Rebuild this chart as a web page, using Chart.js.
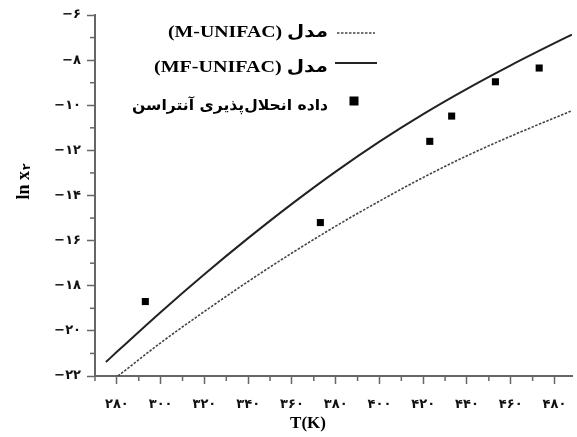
<!DOCTYPE html>
<html>
<head>
<meta charset="utf-8">
<script src="https://cdn.jsdelivr.net/npm/chart.js@4/dist/chart.umd.min.js"></script>
<style>
html,body{margin:0;padding:0;background:#fff;}
#wrap{position:relative;width:577px;height:437px;}
</style>
</head>
<body>
<div id="wrap"><canvas id="c" width="577" height="437"></canvas></div>
<script>
// ---- data ----
const curveT = [275, 280, 300, 320, 340, 360, 380, 400, 420, 440, 460, 480, 488];
const mfUnifac = [-21.38, -20.93, -19.17, -17.49, -15.89, -14.37, -12.94, -11.61, -10.39, -9.27, -8.23, -7.25, -6.87];
const mUnifacT = [280.5, 300, 320, 340, 360, 380, 400, 420, 440, 460, 480, 488];
const mUnifac = [-22.0, -20.53, -19.14, -17.81, -16.55, -15.36, -14.25, -13.20, -12.24, -11.37, -10.56, -10.24];
const expT = [293, 373, 423, 433, 453, 473];
const expLnX = [-18.70, -15.20, -11.60, -10.48, -8.96, -8.35];
const xTicks = [280, 300, 320, 340, 360, 380, 400, 420, 440, 460, 480];
const xTickLabels = ['۲۸۰', '۳۰۰', '۳۲۰', '۳۴۰', '۳۶۰', '۳۸۰', '۴۰۰', '۴۲۰', '۴۴۰', '۴۶۰', '۴۸۰'];
const yTicks = [-22, -20, -18, -16, -14, -12, -10, -8, -6];
const yTickLabels = ['−۲۲', '−۲۰', '−۱۸', '−۱۶', '−۱۴', '−۱۲', '−۱۰', '−۸', '−۶'];
const legendLabels = ['مدل (M-UNIFAC)', 'مدل (MF-UNIFAC)', 'داده انحلال‌پذیری آنتراسن'];
const xTitle = 'T(K)';
const yTitleMain = 'ln x';
const yTitleSub = '۲';

const AXIS = '#666';
const tickFont = {family: '"DejaVu Sans", sans-serif', size: 13, weight: 'bold'};

const extras = {
  id: 'extras',
  afterDraw(chart) {
    const ctx = chart.ctx;
    const xs = chart.scales.x, ys = chart.scales.y;
    const a = chart.chartArea;
    ctx.save();
    // minor ticks
    ctx.strokeStyle = AXIS; ctx.lineWidth = 1.5;
    for (let v = 270; v <= xs.max; v += 10) {
      if (v % 20 === 0) continue;
      const p = xs.getPixelForValue(v);
      ctx.beginPath(); ctx.moveTo(p, a.bottom); ctx.lineTo(p, a.bottom + 5); ctx.stroke();
    }
    for (let v = -21; v <= -7; v += 2) {
      const p = ys.getPixelForValue(v);
      ctx.beginPath(); ctx.moveTo(a.left - 5, p); ctx.lineTo(a.left, p); ctx.stroke();
    }
    // axis titles
    ctx.fillStyle = '#000';
    ctx.font = 'bold 17px "Liberation Serif", serif';
    ctx.textAlign = 'center'; ctx.textBaseline = 'middle';
    ctx.fillText(xTitle, 308, 424);
    ctx.save();
    ctx.translate(24, 182);
    ctx.rotate(-Math.PI / 2);
    ctx.font = 'bold 18px "Liberation Serif", serif';
    const w1 = ctx.measureText(yTitleMain).width;
    ctx.font = 'bold 11px "DejaVu Sans", sans-serif';
    const w2 = ctx.measureText(yTitleSub).width;
    const x0 = -(w1 + w2) / 2;
    ctx.textAlign = 'left';
    ctx.font = 'bold 18px "Liberation Serif", serif';
    ctx.fillText(yTitleMain, x0, 0);
    ctx.font = 'bold 11px "DejaVu Sans", sans-serif';
    ctx.fillText(yTitleSub, x0 + w1 + 1, 3);
    ctx.restore();
    // legend
    const rows = [33, 63, 101];
    const textY = [33, 68, 106];
    const targetW = [160, 174, 196];
    ctx.lineWidth = 1.6; ctx.strokeStyle = '#444';
    ctx.setLineDash([2.5, 1.5]);
    ctx.beginPath(); ctx.moveTo(337, rows[0]); ctx.lineTo(375, rows[0]); ctx.stroke();
    ctx.setLineDash([]);
    ctx.lineWidth = 2; ctx.strokeStyle = '#222';
    ctx.beginPath(); ctx.moveTo(335, rows[1]); ctx.lineTo(377, rows[1]); ctx.stroke();
    ctx.fillStyle = '#000';
    ctx.fillRect(349.5, rows[2] - 4.5, 9, 9);
    ctx.direction = 'rtl';
    ctx.textAlign = 'right';
    ctx.textBaseline = 'middle';
    for (let i = 0; i < 3; i++) {
      ctx.font = (i < 2 ? 'bold 17px "Liberation Serif", "DejaVu Sans", serif' : 'bold 15px "DejaVu Sans", sans-serif');
      const w = ctx.measureText(legendLabels[i]).width;
      ctx.save();
      ctx.translate(328, textY[i]);
      ctx.scale(targetW[i] / w, 1);
      ctx.fillText(legendLabels[i], 0, 0);
      ctx.restore();
    }
    ctx.restore();
  }
};

new Chart(document.getElementById('c'), {
  type: 'scatter',
  data: {
    datasets: [
      {
        label: legendLabels[0],
        data: mUnifacT.map((t, i) => ({x: t, y: mUnifac[i]})),
        showLine: true, pointRadius: 0, borderColor: '#444', borderWidth: 1.6,
        borderDash: [2.5, 1.5], cubicInterpolationMode: 'monotone'
      },
      {
        label: legendLabels[1],
        data: curveT.map((t, i) => ({x: t, y: mfUnifac[i]})),
        showLine: true, pointRadius: 0, borderColor: '#222', borderWidth: 2,
        cubicInterpolationMode: 'monotone'
      },
      {
        label: legendLabels[2],
        data: expT.map((t, i) => ({x: t, y: expLnX[i]})),
        showLine: false, pointStyle: 'rect', pointRadius: 5,
        backgroundColor: '#000', borderColor: '#000', borderWidth: 0
      }
    ]
  },
  options: {
    responsive: false, animation: false,
    layout: {padding: {top: 15, right: 0, left: 0, bottom: 0}},
    plugins: {legend: {display: false}, tooltip: {enabled: false}},
    scales: {
      x: {
        type: 'linear', min: 270, max: 488,
        afterBuildTicks: s => { s.ticks = xTicks.map(v => ({value: v})); },
        afterFit: s => { s.height = 61; s.paddingLeft = 0; s.paddingRight = 0; },
        ticks: {
          color: '#111', font: tickFont, padding: 13, maxRotation: 0, autoSkip: false,
          callback: v => { const i = xTicks.indexOf(v); return i >= 0 ? xTickLabels[i] : ''; }
        },
        grid: {drawOnChartArea: false, drawTicks: true, tickLength: 8, tickColor: AXIS, tickWidth: 1.5},
        border: {display: true, color: AXIS, width: 2}
      },
      y: {
        type: 'linear', min: -22, max: -6,
        afterBuildTicks: s => { s.ticks = yTicks.map(v => ({value: v})); },
        afterFit: s => { s.width = 95; },
        ticks: {
          color: '#111', font: tickFont, padding: 6, autoSkip: false,
          callback: v => { const i = yTicks.indexOf(v); return i >= 0 ? yTickLabels[i] : ''; }
        },
        grid: {drawOnChartArea: false, drawTicks: true, tickLength: 8, tickColor: AXIS, tickWidth: 1.5},
        border: {display: true, color: AXIS, width: 2}
      }
    }
  },
  plugins: [extras]
});
</script>
</body>
</html>
